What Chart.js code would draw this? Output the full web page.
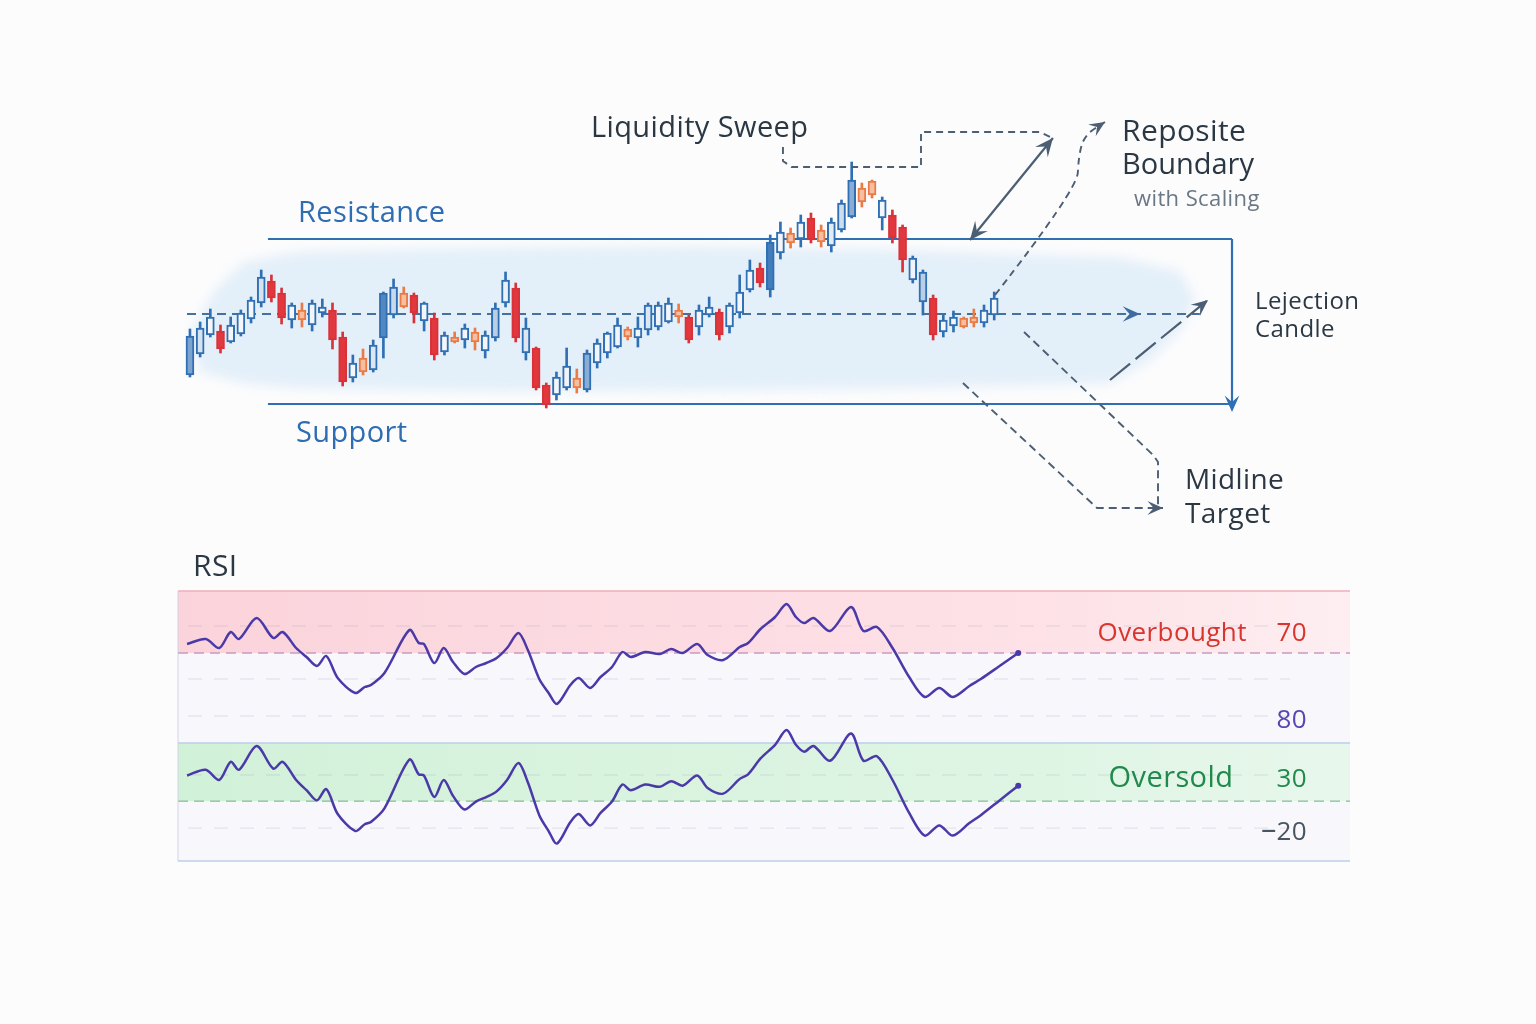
<!DOCTYPE html>
<html>
<head>
<meta charset="utf-8">
<script src="https://cdn.jsdelivr.net/npm/chart.js@4.4.1/dist/chart.umd.min.js"></script>
<style>
	html, body { margin: 0; padding: 0; background: #fcfcfd; }
	#wrap { position: relative; width: 1536px; height: 1024px; overflow: hidden; }
	canvas { position: absolute; left: 0; }
	#price-chart { top: 0; }
	#rsi-chart { top: 540px; }
</style>
</head>
<body>
<div id="wrap">
	<canvas id="price-chart" width="1536" height="540"></canvas>
	<canvas id="rsi-chart" width="1536" height="484"></canvas>
</div>
<script>
// ---- price data (one candle per bar) ----
const candleOpen = [105.8, 110.0, 113.8, 114.6, 112.4, 114.0, 117.0, 120.2, 124.6, 122.2,
	116.8, 118.8, 115.8, 118.2, 118.8, 113.4, 105.2, 109.2, 106.8, 113.2,
	117.8, 122.2, 121.8, 116.6, 117.2, 110.4, 113.4, 112.8, 114.4, 110.6,
	113.2, 120.2, 123.2, 110.2, 111.2, 103.8, 101.8, 103.2, 105.2, 102.8,
	108.2, 110.2, 111.4, 115.0, 113.2, 114.8, 115.4, 116.4, 118.8, 117.4,
	115.4, 117.8, 118.4, 115.4, 118.2, 122.8, 127.2, 122.8, 130.2, 134.2,
	133.0, 137.2, 134.8, 131.6, 134.8, 137.4, 143.2, 144.6, 137.2, 137.8,
	135.4, 124.8, 120.4, 121.2, 114.4, 115.6, 117.2, 117.4, 116.2, 117.8];
const candleHigh = [115.0, 116.4, 119.0, 115.8, 117.4, 118.8, 121.4, 126.8, 125.8, 123.2,
	120.2, 120.2, 120.8, 121.0, 120.2, 114.4, 109.8, 111.0, 112.8, 122.4,
	125.0, 123.4, 122.2, 120.4, 118.2, 114.4, 114.4, 116.0, 115.2, 114.6,
	120.2, 126.4, 124.2, 117.2, 111.4, 104.2, 106.4, 111.2, 107.0, 110.8,
	113.0, 114.4, 117.2, 115.4, 117.4, 120.2, 120.4, 121.2, 120.0, 117.8,
	119.8, 121.4, 119.0, 120.2, 125.8, 128.8, 128.2, 133.8, 136.4, 135.2,
	137.8, 138.2, 135.8, 137.2, 140.8, 148.4, 144.2, 144.8, 141.4, 138.8,
	135.8, 129.6, 126.8, 121.8, 117.8, 118.6, 117.4, 119.0, 119.8, 122.4];
const candleLow = [105.4, 109.4, 113.4, 110.2, 112.2, 113.6, 116.2, 119.4, 120.4, 116.0,
	115.2, 115.4, 114.6, 117.4, 111.0, 103.6, 104.4, 105.8, 106.4, 109.2,
	117.2, 119.2, 116.2, 114.6, 108.8, 109.8, 112.2, 111.2, 110.8, 109.2,
	112.6, 119.4, 112.4, 108.8, 102.8, 99.2, 100.8, 102.8, 102.2, 102.4,
	107.2, 109.2, 111.2, 112.8, 111.4, 113.8, 114.8, 116.2, 116.2, 112.2,
	113.8, 117.4, 112.8, 114.2, 117.2, 122.4, 123.4, 121.4, 129.0, 131.2,
	131.4, 132.2, 131.4, 130.4, 134.4, 137.2, 139.4, 141.2, 134.8, 132.2,
	126.4, 124.2, 117.8, 112.8, 113.4, 114.4, 115.2, 115.4, 115.4, 116.8];
const candleClose = [113.6, 115.2, 117.4, 111.0, 115.8, 118.2, 120.8, 125.4, 121.2, 117.2,
	119.8, 116.8, 120.2, 119.4, 112.8, 104.4, 108.2, 106.4, 111.8, 122.2,
	123.4, 119.4, 118.2, 120.2, 109.8, 113.8, 112.4, 115.2, 112.4, 113.8,
	119.2, 124.8, 113.2, 115.2, 103.2, 99.8, 105.4, 107.6, 103.2, 110.2,
	112.2, 114.2, 115.8, 113.4, 115.2, 119.8, 119.8, 120.2, 117.4, 112.8,
	118.8, 119.4, 113.8, 119.8, 122.4, 126.8, 124.2, 132.4, 134.4, 132.2,
	136.4, 132.8, 132.4, 136.4, 140.2, 144.8, 140.4, 141.8, 140.8, 133.2,
	128.8, 129.2, 126.4, 113.8, 116.8, 117.4, 115.4, 116.2, 118.8, 121.2];

// ---- levels of the range ----
const supportLevel = 100;
const resistanceLevel = 133;
const midLevel = 118;
const rangeBars = [7.66, 102.36];
const midlineBars = [-0.29, 99.2];
const rangeDropTo = 98.4;

// ---- RSI ----
const rsiBars = [0.0, 1.8, 3.1, 4.2, 5.0, 6.7, 8.3, 9.2, 10.5, 11.5, 12.5, 13.4, 14.5, 16.2, 17.1, 17.7,
	19.0, 21.4, 22.3, 22.8, 23.8, 24.7, 25.6, 26.7, 27.8, 28.8, 29.8, 30.8, 31.9, 32.8, 33.9, 34.8,
	35.6, 36.9, 37.7, 38.8, 39.8, 40.9, 41.9, 42.7, 44.1, 45.5, 46.6, 47.7, 49.1, 50.1, 51.6, 53.2,
	54.0, 55.2, 56.6, 57.7, 58.6, 59.4, 60.3, 61.9, 63.9, 65.1, 66.4, 67.9, 69.5, 71.0, 72.4, 73.7,
	75.3, 76.4, 78.2, 80.0];
const rsiValues = [74.5, 77.0, 72.5, 80.5, 77.0, 87.5, 77.5, 80.5, 72.5, 68.0, 63.5, 68.5, 57.5, 50.0, 53.0, 54.0,
	60.0, 81.5, 75.0, 74.5, 65.0, 72.5, 65.5, 59.5, 63.0, 65.0, 67.5, 72.5, 80.0, 71.5, 57.0, 50.0,
	44.5, 54.0, 57.5, 52.5, 58.0, 63.0, 70.5, 68.0, 70.5, 69.5, 72.0, 70.0, 74.5, 69.0, 66.5, 73.0,
	75.0, 82.0, 88.0, 94.5, 88.0, 85.0, 87.5, 81.0, 93.0, 81.0, 83.0, 72.5, 58.0, 48.0, 52.5, 48.0,
	53.5, 57.0, 63.5, 70.0];
const overboughtBand = [70, 101];   // upper panel axis
const oversoldBand = [63.2, 88.8];  // lower panel axis
const rsiGridTop = [83.5, 57, 38.5];
const rsiGridLow = [74.7, 51.3];

// ---- annotation shapes, in (bar, price) ----
const sweepBracket = [[58.25, 151.4], [58.25, 148.6], [59.1, 147.4], [71.81, 147.4], [71.81, 154.4], [83.5, 154.4], [84.5, 153.4]];
const boundaryArrow = [[76.62, 132.8], [84.77, 153.2]];
const boundaryCurve = [[79.08, 121.8], [87.13, 142.8], [87.3, 149.8], [87.9, 153.8], [89.88, 156.4]];
const rejectionArrow = [[90.37, 104.8], [100.0, 120.8]];
const midlineArrow = [[91.5, 118], [93.32, 118]];
const midlineDrop = [[81.93, 114.4], [94.6, 89.8], [95.09, 88.4], [95.09, 78.8]];
const targetPath = [[75.93, 104.2], [89.1, 79.2], [95.58, 79.2]];
const washOutline = [[5.4, 128.4], [10.81, 130.4], [30.45, 131.2], [50.1, 131.4], [69.74, 130.8], [79.57, 130.0],
	[91.36, 129.2], [97.25, 126.4], [98.72, 120.8], [97.25, 114.8], [94.3, 108.8], [90.37, 104.2], [69.74, 103.2],
	[50.1, 102.8], [30.45, 102.6], [10.81, 103.2], [5.4, 104.2], [1.0, 106.4], [0.2, 114.8], [2.5, 122.8]];

const BLUE = '#2f6fb3';
const RED = '#e1373d';
const ORANGE = '#ea7b47';
const SLATE = '#4b5e73';
const FONT = "'Open Sans', 'Noto Sans', sans-serif";

const priceLabels = [
	{ text: 'Liquidity Sweep', x: 39.39, y: 153.4, size: 29, color: '#2b3844' },
	{ text: 'Resistance', x: 10.61, y: 136.4, size: 29, color: '#2e6db2' },
	{ text: 'Support', x: 10.41, y: 92.4, size: 29, color: '#2e6db2' },
	{ text: 'Reposite', x: 91.55, y: 152.6, size: 30, color: '#2b3844' },
	{ text: 'Boundary', x: 91.55, y: 146.0, size: 29, color: '#2b3844', spacing: 0 },
	{ text: 'with Scaling', x: 92.73, y: 139.6, size: 22, color: '#6a7784', weight: 400 },
	{ text: 'Lejection', x: 104.62, y: 119.1, size: 24, color: '#2b3844' },
	{ text: 'Candle', x: 104.62, y: 113.4, size: 24, color: '#2b3844' },
	{ text: 'Midline', x: 97.74, y: 83.1, size: 28, color: '#2b3844' },
	{ text: 'Target', x: 97.74, y: 76.2, size: 28, color: '#2b3844' },
];

const rsiLabels = [
	{ text: 'RSI', x: 0.58, y: 108.5, axis: 'yTop', size: 30, color: '#2b3844', align: 'left' },
	{ text: 'Overbought', x: 102.0, y: 76.0, axis: 'yTop', size: 26, color: '#d8352f', align: 'right' },
	{ text: '70', x: 107.8, y: 76.0, axis: 'yTop', size: 26, color: '#d8352f', align: 'right' },
	{ text: '80', x: 107.8, y: 32.7, axis: 'yTop', size: 26, color: '#5846b5', align: 'right' },
	{ text: 'Oversold', x: 100.7, y: 69.3, axis: 'yLow', size: 29, color: '#1f8a4b', align: 'right' },
	{ text: '30', x: 107.8, y: 69.3, axis: 'yLow', size: 26, color: '#1f8a4b', align: 'right' },
	{ text: '\u201220', x: 107.8, y: 45.9, axis: 'yLow', size: 26, color: '#4a5562', align: 'right' },
];

function mix(t) {
	// blend the candle blue with white, t = 0..1
	const c = [47, 111, 179];
	return 'rgb(' + c.map((v) => Math.round(255 + (v - 255) * t)).join(',') + ')';
}

const candleFill = candleOpen.map((o, i) => {
	const body = candleClose[i] - o;
	if (body >= 0) return mix(Math.min(0.9, Math.max(0.06, (body - 4) / 6)));
	return -body < 2.9 ? '#f6c0a0' : RED;
});
const candleStroke = candleOpen.map((o, i) => {
	const body = candleClose[i] - o;
	if (body >= 0) return BLUE;
	return -body < 2.9 ? ORANGE : '#d8323a';
});

function toPx(chart, pt, yId) {
	return [chart.scales.x.getPixelForValue(pt[0]), chart.scales[yId || 'y'].getPixelForValue(pt[1])];
}

function arrowHead(ctx, from, to, size) {
	const a = Math.atan2(to[1] - from[1], to[0] - from[0]);
	ctx.save();
	ctx.setLineDash([]);
	ctx.beginPath();
	ctx.moveTo(to[0], to[1]);
	ctx.lineTo(to[0] - size * Math.cos(a - 0.42), to[1] - size * Math.sin(a - 0.42));
	ctx.lineTo(to[0] - size * 0.55 * Math.cos(a), to[1] - size * 0.55 * Math.sin(a));
	ctx.lineTo(to[0] - size * Math.cos(a + 0.42), to[1] - size * Math.sin(a + 0.42));
	ctx.closePath();
	ctx.fill();
	ctx.restore();
}

function strokePath(ctx, pts, dash, smooth) {
	ctx.setLineDash(dash || []);
	ctx.beginPath();
	ctx.moveTo(pts[0][0], pts[0][1]);
	if (smooth && pts.length > 2) {
		for (let i = 1; i < pts.length - 1; i++) {
			const mx = (pts[i][0] + pts[i + 1][0]) / 2;
			const my = (pts[i][1] + pts[i + 1][1]) / 2;
			ctx.quadraticCurveTo(pts[i][0], pts[i][1], mx, my);
		}
		const last = pts[pts.length - 1];
		ctx.lineTo(last[0], last[1]);
	} else {
		pts.slice(1).forEach((p) => ctx.lineTo(p[0], p[1]));
	}
	ctx.stroke();
}

function drawLabels(chart, list, defaultAxis) {
	const ctx = chart.ctx;
	list.forEach((l) => {
		ctx.save();
		ctx.font = `${l.weight || 500} ${l.size}px ${FONT}`;
		ctx.fillStyle = l.color;
		ctx.textAlign = l.align || 'left';
		ctx.textBaseline = 'alphabetic';
		ctx.letterSpacing = (l.spacing === undefined ? 0.4 : l.spacing) + 'px';
		const p = toPx(chart, [l.x, l.y], l.axis || defaultAxis);
		ctx.fillText(l.text, p[0], p[1]);
		ctx.restore();
	});
}

const priceDecor = {
	id: 'priceDecor',
	beforeDatasetsDraw(chart) {
		const ctx = chart.ctx;
		ctx.save();
		ctx.filter = 'blur(6px)';
		ctx.fillStyle = 'rgba(222, 236, 248, 0.85)';
		ctx.beginPath();
		washOutline.forEach((pt, i) => {
			const p = toPx(chart, pt);
			i ? ctx.lineTo(p[0], p[1]) : ctx.moveTo(p[0], p[1]);
		});
		ctx.closePath();
		ctx.fill();
		ctx.restore();
	},
	afterDatasetsDraw(chart) {
		const ctx = chart.ctx;
		ctx.save();
		ctx.strokeStyle = SLATE;
		ctx.fillStyle = SLATE;
		ctx.lineWidth = 1.9;
		ctx.lineCap = 'butt';

		const sweep = sweepBracket.map((p) => toPx(chart, p));
		strokePath(ctx, sweep, [7, 5]);

		const both = boundaryArrow.map((p) => toPx(chart, p));
		ctx.lineWidth = 2.2;
		strokePath(ctx, both, []);
		arrowHead(ctx, both[0], both[1], 20);
		arrowHead(ctx, both[1], both[0], 20);

		const curve = boundaryCurve.map((p) => toPx(chart, p));
		ctx.lineWidth = 1.9;
		strokePath(ctx, curve, [7, 5], true);
		arrowHead(ctx, curve[curve.length - 2], curve[curve.length - 1], 17);

		const rej = rejectionArrow.map((p) => toPx(chart, p));
		ctx.lineWidth = 2.2;
		strokePath(ctx, rej, [26, 7]);
		arrowHead(ctx, rej[0], rej[1], 18);

		const mid = midlineArrow.map((p) => toPx(chart, p));
		ctx.fillStyle = '#3f6c9e';
		arrowHead(ctx, mid[0], mid[1], 19);
		ctx.fillStyle = SLATE;

		ctx.lineWidth = 1.9;
		strokePath(ctx, midlineDrop.map((p) => toPx(chart, p)), [8, 5]);
		const tgt = targetPath.map((p) => toPx(chart, p));
		strokePath(ctx, tgt, [8, 5]);
		arrowHead(ctx, tgt[1], tgt[2], 17);

		// drop arrow at the right edge of the range box
		ctx.fillStyle = BLUE;
		const drop0 = toPx(chart, [rangeBars[1], supportLevel + 3]);
		const drop1 = toPx(chart, [rangeBars[1], rangeDropTo]);
		arrowHead(ctx, drop0, drop1, 18);
		ctx.restore();
	},
	afterDraw(chart) {
		drawLabels(chart, priceLabels, 'y');
	},
};

const barIndex = candleOpen.map((_, i) => i);

const levelLine = (points, color, width, dash) => ({
	type: 'line',
	data: points,
	borderColor: color,
	borderWidth: width,
	borderDash: dash,
	pointRadius: 0,
	fill: false,
	tension: 0,
});

new Chart(document.getElementById('price-chart'), {
	type: 'bar',
	data: {
		datasets: [
			{
				label: 'Body',
				data: barIndex.map((i) => ({ x: i, y: [candleOpen[i], candleClose[i]] })),
				backgroundColor: candleFill,
				borderColor: candleStroke,
				borderWidth: 2,
				borderSkipped: false,
				barThickness: 8,
				grouped: false,
			},
			{
				label: 'Wick',
				data: barIndex.map((i) => ({ x: i, y: [candleLow[i], candleHigh[i]] })),
				backgroundColor: candleStroke,
				borderWidth: 0,
				barThickness: 2,
				grouped: false,
			},
			levelLine([{ x: midlineBars[0], y: midLevel }, { x: midlineBars[1], y: midLevel }], '#45709f', 1.8, [9, 6]),
			levelLine([{ x: rangeBars[0], y: resistanceLevel }, { x: rangeBars[1], y: resistanceLevel }], BLUE, 2.2, []),
			levelLine([{ x: rangeBars[0], y: supportLevel }, { x: rangeBars[1], y: supportLevel }], BLUE, 2.2, []),
			levelLine([{ x: rangeBars[1], y: resistanceLevel }, { x: rangeBars[1], y: rangeDropTo + 1 }], BLUE, 2.2, []),
		],
	},
	options: {
		responsive: false,
		animation: false,
		layout: { padding: 0 },
		plugins: { legend: { display: false }, tooltip: { enabled: false } },
		scales: {
			x: { type: 'linear', display: false, min: -18.66, max: 132.22, offset: false },
			y: { type: 'linear', display: false, min: 72.8, max: 180.8 },
		},
	},
	plugins: [priceDecor],
});

const rsiDecor = {
	id: 'rsiDecor',
	beforeDatasetsDraw(chart) {
		const ctx = chart.ctx;
		const area = chart.chartArea;
		const yTop = chart.scales.yTop;
		const yLow = chart.scales.yLow;
		ctx.save();
		ctx.fillStyle = '#f7f7fc';
		ctx.fillRect(area.left, area.top, area.width, area.height);

		const red = ctx.createLinearGradient(area.left, 0, area.right, 0);
		red.addColorStop(0, '#fbd3db');
		red.addColorStop(0.75, '#fde2e7');
		red.addColorStop(1, '#fdeef1');
		const r0 = yTop.getPixelForValue(overboughtBand[1]);
		const r1 = yTop.getPixelForValue(overboughtBand[0]);
		ctx.fillStyle = red;
		ctx.fillRect(area.left, r0, area.width, r1 - r0);

		const green = ctx.createLinearGradient(area.left, 0, area.right, 0);
		green.addColorStop(0, '#d2f1d9');
		green.addColorStop(0.75, '#dff5e4');
		green.addColorStop(1, '#e8f7ec');
		const g0 = yLow.getPixelForValue(oversoldBand[1]);
		const g1 = yLow.getPixelForValue(oversoldBand[0]);
		ctx.fillStyle = green;
		ctx.fillRect(area.left, g0, area.width, g1 - g0);

		// faint grid
		ctx.strokeStyle = 'rgba(140, 140, 175, 0.22)';
		ctx.lineWidth = 1;
		ctx.setLineDash([14, 12]);
		rsiGridTop.forEach((v) => {
			const y = yTop.getPixelForValue(v);
			ctx.beginPath();
			ctx.moveTo(area.left + 10, y);
			ctx.lineTo(area.right - 60, y);
			ctx.stroke();
		});
		rsiGridLow.forEach((v) => {
			const y = yLow.getPixelForValue(v);
			ctx.beginPath();
			ctx.moveTo(area.left + 10, y);
			ctx.lineTo(area.right - 60, y);
			ctx.stroke();
		});

		// band edges
		ctx.setLineDash([10, 6]);
		ctx.lineWidth = 1.3;
		ctx.strokeStyle = '#c79ac0';
		ctx.beginPath();
		ctx.moveTo(area.left, r1);
		ctx.lineTo(area.right, r1);
		ctx.stroke();
		ctx.strokeStyle = '#86bb98';
		ctx.beginPath();
		ctx.moveTo(area.left, g1);
		ctx.lineTo(area.right, g1);
		ctx.stroke();

		ctx.setLineDash([]);
		ctx.lineWidth = 1.3;
		ctx.strokeStyle = '#f0aebb';
		ctx.beginPath();
		ctx.moveTo(area.left, r0);
		ctx.lineTo(area.right, r0);
		ctx.stroke();
		ctx.strokeStyle = '#bcd0e8';
		ctx.beginPath();
		ctx.moveTo(area.left, g0);
		ctx.lineTo(area.right, g0);
		ctx.moveTo(area.left, area.bottom);
		ctx.lineTo(area.right, area.bottom);
		ctx.stroke();
		ctx.strokeStyle = 'rgba(200, 205, 225, 0.8)';
		ctx.lineWidth = 1;
		ctx.beginPath();
		ctx.moveTo(area.left, area.top);
		ctx.lineTo(area.left, area.bottom);
		ctx.stroke();
		ctx.restore();
	},
	afterDraw(chart) {
		drawLabels(chart, rsiLabels, 'yTop');
	},
};

const rsiPoints = rsiBars.map((b, i) => ({ x: b, y: rsiValues[i] }));
const rsiLine = (axis) => ({
	data: rsiPoints,
	yAxisID: axis,
	borderColor: '#4a39a8',
	borderWidth: 2.5,
	tension: 0.3,
	pointRadius: (ctx) => (ctx.dataIndex === rsiPoints.length - 1 ? 3 : 0),
	pointBackgroundColor: '#4a39a8',
	pointBorderWidth: 0,
	clip: false,
});

new Chart(document.getElementById('rsi-chart'), {
	type: 'line',
	data: { datasets: [rsiLine('yTop'), rsiLine('yLow')] },
	options: {
		responsive: false,
		animation: false,
		layout: { padding: { left: 178, right: 186, top: 51, bottom: 163 } },
		plugins: { legend: { display: false }, tooltip: { enabled: false } },
		scales: {
			x: { type: 'linear', display: false, min: -0.87, max: 111.93 },
			yTop: { type: 'linear', display: false, min: -34, max: 101 },
			yLow: { type: 'linear', display: false, min: 36.8, max: 155.8 },
		},
	},
	plugins: [rsiDecor],
});
</script>
</body>
</html>
